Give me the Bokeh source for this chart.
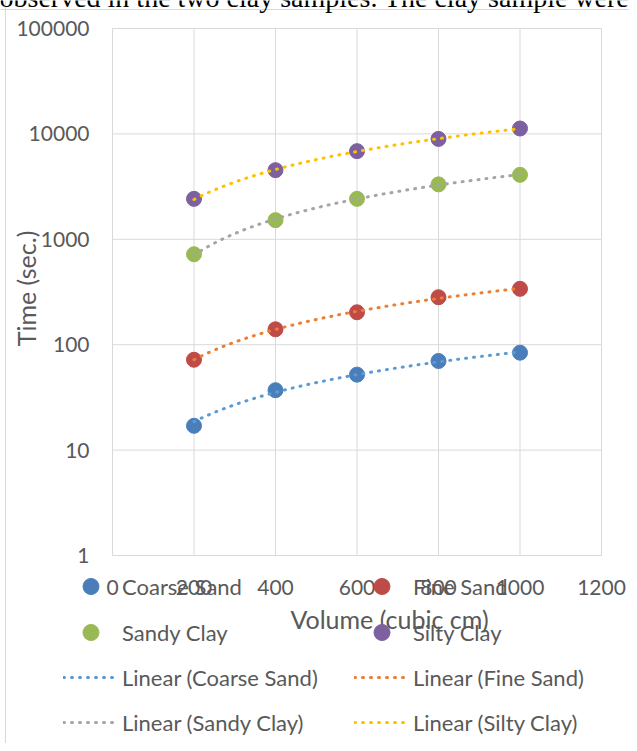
import numpy as np
from bokeh.plotting import figure
from bokeh.models import (Legend, LegendItem, FixedTicker, NumeralTickFormatter,
                          Label, Range1d, Span)
from bokeh.embed import file_html
from bokeh.resources import INLINE

# ---- data ----
volume = [200, 400, 600, 800, 1000]
coarse_sand = [17, 37, 52, 70, 84]
fine_sand = [72, 140, 203, 282, 339]
sandy_clay = [721, 1520, 2420, 3320, 4090]
silty_clay = [2420, 4530, 6860, 8970, 11250]

series_names = ["Coarse Sand", "Fine Sand", "Sandy Clay", "Silty Clay"]
x_ticks = [0, 200, 400, 600, 800, 1000, 1200]
y_ticks = [1, 10, 100, 1000, 10000, 100000]

marker_colors = ["#4A7EBB", "#BE4B48", "#98B954", "#7D60A0"]
trend_colors = ["#5B9BD5", "#ED7D31", "#A5A5A5", "#FFC000"]

FONT = "Lato"
TXT = "#595959"
GRID = "#D9D9D9"

# ---- layout (pixels on the canvas) ----
W, H = 629, 743
PL, PR, PT, PB = 112, 601, 28, 555          # plot area edges
xmin, xmax = x_ticks[0], x_ticks[-1]
dmin, dmax = np.log10(y_ticks[0]), np.log10(y_ticks[-1])
sx = (PR - PL) / (xmax - xmin)               # px per x unit
sy = (PB - PT) / (dmax - dmin)               # px per decade
x_start = xmin - PL / sx
x_end = xmin + (W - PL) / sx
y_start = 10 ** (dmin - (H - PB) / sy)
y_end = 10 ** (dmax + PT / sy)

p = figure(width=W, height=H, output_backend="svg", toolbar_location=None,
           y_axis_type="log", x_range=Range1d(x_start, x_end),
           y_range=Range1d(y_start, y_end),
           min_border_left=0, min_border_right=0,
           min_border_top=0, min_border_bottom=0)
p.outline_line_color = None
p.background_fill_color = "white"
p.border_fill_color = "white"
p.xgrid.visible = False
p.ygrid.visible = False

# chart-area border (light grey, left and top)
p.add_layout(Span(location=xmin + (5 - PL) / sx, dimension="height",
                  line_color=GRID, line_width=1))
p.add_layout(Span(location=10 ** (dmax + (PT - 9) / sy), dimension="width",
                  line_color=GRID, line_width=1))

# gridlines bounded to the plot area
p.segment(x0=x_ticks, y0=[y_ticks[0]] * len(x_ticks), x1=x_ticks,
          y1=[y_ticks[-1]] * len(x_ticks), line_color=GRID, line_width=1)
p.segment(x0=[xmin] * len(y_ticks), y0=y_ticks, x1=[xmax] * len(y_ticks),
          y1=y_ticks, line_color=GRID, line_width=1)

# axes fixed at the plot-area edges
p.xaxis.fixed_location = y_ticks[0]
p.yaxis.fixed_location = xmin
p.xaxis.bounds = (xmin, xmax)
p.yaxis.bounds = (y_ticks[0], y_ticks[-1])
p.xaxis.ticker = FixedTicker(ticks=x_ticks)
p.yaxis.ticker = FixedTicker(ticks=y_ticks)
p.yaxis.formatter = NumeralTickFormatter(format="0")
for ax in (p.xaxis, p.yaxis):
    ax.axis_line_color = GRID
    ax.major_tick_line_color = None
    ax.minor_tick_line_color = None
    ax.major_label_text_font = FONT
    ax.major_label_text_font_size = "21px"
    ax.major_label_text_color = TXT
p.xaxis.major_label_standoff = 18
p.yaxis.major_label_standoff = 17

all_series = [coarse_sand, fine_sand, sandy_clay, silty_clay]
marker_renderers = []
for vals, c in zip(all_series, marker_colors):
    r = p.scatter(volume, vals, size=15, fill_color=c, line_color=c)
    marker_renderers.append(r)

# linear trendlines (least-squares fit, as in the original chart)
trend_renderers = []
xs_fit = np.linspace(volume[0], volume[-1], 60)
for vals, c in zip(all_series, trend_colors):
    k, b = np.polyfit(volume, vals, 1)
    r = p.line(xs_fit, k * xs_fit + b, line_color=c, line_width=3,
               line_dash="1 7", line_cap="round")
    trend_renderers.append(r)

# ---- legend entries (placed like the original, two columns) ----
col_x = [63, 354]
row_cy = [586, 632, 677, 722]
GH = 40
entries = [
    (series_names[0], marker_renderers[0], 0, 0),
    (series_names[1], marker_renderers[1], 1, 0),
    (series_names[2], marker_renderers[2], 0, 1),
    (series_names[3], marker_renderers[3], 1, 1),
    ("Linear (" + series_names[0] + ")", trend_renderers[0], 0, 2),
    ("Linear (" + series_names[1] + ")", trend_renderers[1], 1, 2),
    ("Linear (" + series_names[2] + ")", trend_renderers[2], 0, 3),
    ("Linear (" + series_names[3] + ")", trend_renderers[3], 1, 3),
]
for label, rend, ci, ri in entries:
    lg = Legend(items=[LegendItem(label=label, renderers=[rend])],
                location=(col_x[ci], H - (row_cy[ri] + GH // 2)),
                glyph_width=55, glyph_height=GH, label_height=GH,
                label_standoff=4, padding=0, margin=0, spacing=0,
                border_line_color=None, background_fill_alpha=0,
                label_text_font=FONT, label_text_font_size="22px",
                label_text_color=TXT)
    p.add_layout(lg)

p.add_layout(Label(x=389, y=H - 618, x_units="screen", y_units="screen",
                   text="Volume (cubic cm)", text_align="center",
                   text_baseline="middle", text_font=FONT,
                   text_font_size="25px", text_color=TXT))
p.add_layout(Label(x=25, y=H - 288, x_units="screen", y_units="screen",
                   text="Time (sec.)", text_align="center",
                   text_baseline="middle", angle=np.pi / 2, text_font=FONT,
                   text_font_size="25px", text_color=TXT))
# cut-off line of document text above the chart
p.add_layout(Label(x=-1, y=H + 3, x_units="screen", y_units="screen",
                   text="observed in the two clay samples. The clay sample were",
                   text_align="left", text_baseline="alphabetic",
                   text_font="Liberation Serif", text_font_size="28px",
                   text_color="black"))

open("out.html", "w").write(file_html(p, INLINE))
